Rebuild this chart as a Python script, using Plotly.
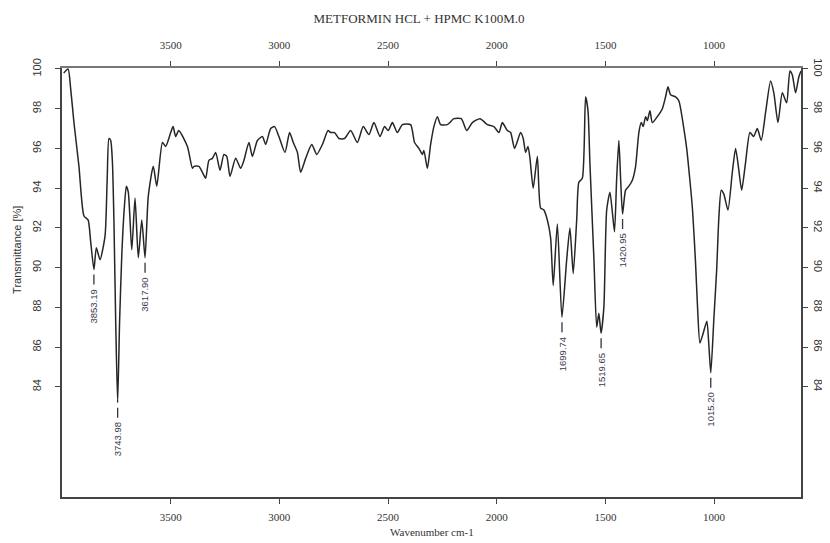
import plotly.graph_objects as go

# ---- data ----
wavenumber = [3992, 3972, 3960, 3945, 3922, 3899, 3880, 3868, 3853, 3842, 3825, 3802, 3792, 3784, 3776,
              3768, 3761, 3753, 3744, 3735, 3725, 3714, 3704, 3695, 3679, 3664, 3649, 3633, 3618, 3603,
              3580, 3564, 3538, 3523, 3500, 3489, 3477, 3463, 3423, 3400, 3393, 3370, 3354, 3339, 3324,
              3308, 3293, 3273, 3255, 3242, 3227, 3201, 3178, 3163, 3140, 3124, 3101, 3078, 3063, 3040,
              3022, 3002, 2974, 2953, 2936, 2917, 2902, 2879, 2851, 2828, 2802, 2776, 2764, 2746, 2726,
              2700, 2672, 2641, 2614, 2588, 2565, 2537, 2516, 2499, 2480, 2457, 2434, 2396, 2378, 2358,
              2342, 2335, 2319, 2304, 2289, 2273, 2258, 2227, 2197, 2163, 2138, 2112, 2077, 2043, 2013,
              1990, 1974, 1951, 1936, 1918, 1890, 1878, 1867, 1856, 1847, 1832, 1813, 1798, 1783, 1767,
              1752, 1740, 1721, 1700, 1678, 1663, 1648, 1632, 1622, 1606, 1591, 1580, 1571, 1553, 1540,
              1530, 1520, 1507, 1494, 1479, 1468, 1458, 1448, 1438, 1430, 1421, 1407, 1392, 1376, 1361,
              1346, 1335, 1326, 1315, 1307, 1295, 1284, 1261, 1238, 1223, 1212, 1200, 1177, 1162, 1139,
              1126, 1113, 1099, 1085, 1076, 1065, 1050, 1033, 1024, 1015, 1001, 988, 978, 967, 955,
              936, 916, 901, 887, 873, 855, 835, 818, 801, 783, 763, 740, 725, 706, 686,
              666, 651, 640, 625, 610, 600]
transmittance = [99.8, 100.0, 99.0, 97.3, 95.1, 92.6, 92.4, 91.3, 89.9, 91.0, 90.4, 91.6, 94.5, 96.5, 96.4,
                 95.3, 92.3, 87.3, 83.2, 87.3, 90.6, 92.9, 94.1, 93.8, 90.9, 93.5, 90.5, 92.4, 90.5, 93.6,
                 95.1, 94.1, 96.3, 96.1, 96.8, 97.1, 96.6, 96.9, 96.1, 95.0, 95.1, 95.1, 94.8, 94.5, 95.4,
                 95.5, 95.8, 94.9, 95.7, 95.6, 94.6, 95.5, 95.0, 95.4, 96.3, 95.6, 96.4, 96.6, 96.2, 97.0,
                 97.1, 96.6, 95.8, 96.8, 96.3, 95.8, 94.8, 95.5, 96.2, 95.7, 96.2, 96.9, 96.8, 96.8, 96.5,
                 96.5, 96.9, 96.3, 97.1, 96.7, 97.3, 96.6, 97.1, 96.9, 97.3, 96.8, 97.2, 97.2, 96.3, 96.0,
                 95.7, 95.9, 95.0, 96.2, 97.1, 97.6, 97.2, 97.2, 97.5, 97.5, 96.9, 97.3, 97.5, 97.2, 97.1,
                 96.8, 97.3, 96.9, 96.8, 96.0, 96.8, 96.5, 95.8, 96.1, 95.5, 94.0, 95.6, 93.0, 92.9, 92.4,
                 91.5, 89.1, 92.2, 87.5, 90.4, 92.0, 89.7, 92.4, 94.3, 94.5, 98.6, 97.9, 95.2, 90.5, 87.0,
                 87.7, 86.7, 88.0, 92.9, 93.8, 92.8, 91.8, 94.5, 96.4, 94.5, 92.7, 93.9, 94.1, 94.4, 95.1,
                 96.8, 97.3, 97.1, 97.6, 97.4, 97.9, 97.3, 97.6, 98.0, 98.6, 99.1, 98.7, 98.6, 98.4, 97.0,
                 96.0, 94.6, 92.9, 90.2, 88.0, 86.2, 86.7, 87.3, 86.1, 84.7, 87.4, 89.9, 92.5, 93.9, 93.7,
                 92.9, 94.8, 96.0, 95.0, 93.9, 95.3, 96.8, 96.6, 97.0, 96.4, 97.8, 99.4, 98.8, 97.3, 98.8,
                 98.3, 99.9, 99.7, 98.8, 99.6, 99.9]

peak_wavenumbers = [3853.19, 3743.98, 3617.90, 1699.74, 1519.65, 1420.95, 1015.20]
peak_values = [89.9, 83.2, 90.5, 87.5, 86.7, 92.7, 84.7]
peak_labels = ["3853.19", "3743.98", "3617.90", "1699.74", "1519.65", "1420.95", "1015.20"]

x_ticks = [3500, 3000, 2500, 2000, 1500, 1000]
y_ticks = [84, 86, 88, 90, 92, 94, 96, 98, 100]

title_text = "METFORMIN HCL + HPMC K100M.0"
x_title = "Wavenumber cm-1"
y_title = "Transmittance [%]"

# ---- figure ----
# The page body has an 8 px margin, so the figure is sized/placed to compensate.
W, H = 822, 535
SERIF = "Liberation Serif, DejaVu Serif, serif"
SANS = "Liberation Sans, Arial, sans-serif"
x_range = [4000, 600]
y_range = [78.45, 100.05]

fig = go.Figure()
fig.add_trace(go.Scatter(x=wavenumber, y=transmittance, mode="lines",
                         line=dict(color="#262626", width=1.5, shape="spline", smoothing=0.6),
                         xaxis="x", yaxis="y", showlegend=False, hoverinfo="skip"))
fig.add_trace(go.Scatter(x=wavenumber, y=transmittance, mode="lines",
                         line=dict(color="rgba(0,0,0,0)", width=0),
                         xaxis="x2", yaxis="y2", showlegend=False, hoverinfo="skip"))

annotations = []
shapes = []
for wn, val, lab in zip(peak_wavenumbers, peak_values, peak_labels):
    shapes.append(dict(type="line", xref="x", yref="y", x0=wn, x1=wn,
                       ysizemode="pixel", yanchor=val, y0=-5, y1=-15,
                       line=dict(color="#333344", width=1.3)))
    annotations.append(dict(x=wn, y=val, xref="x", yref="y", text=lab,
                            showarrow=False, textangle=-90, yanchor="top",
                            xanchor="center", yshift=-18,
                            font=dict(family=SANS, size=9.5, color="#3a3a4c")))

annotations.append(dict(x=0.5, y=0, xref="paper", yref="paper", text=x_title,
                        showarrow=False, yanchor="middle", yshift=-35,
                        font=dict(family=SERIF, size=11, color="#333")))
annotations.append(dict(x=0, y=0.576, xref="paper", yref="paper", text=y_title,
                        showarrow=False, textangle=-90, xanchor="center",
                        yanchor="middle", xshift=-45,
                        font=dict(family=SANS, size=11, color="#333")))

axis_common = dict(showgrid=False, zeroline=False, ticks="outside", ticklen=5,
                   tickcolor="#444", tickwidth=1, showline=True, automargin=False)

fig.update_layout(
    width=W, height=H,
    margin=dict(l=54, r=29, t=60, b=46),
    paper_bgcolor="white", plot_bgcolor="white",
    title=dict(text=title_text, x=0.5, xanchor="center", y=1 - 10 / H, yanchor="middle",
               font=dict(family=SERIF, size=13, color="#333")),
    xaxis=dict(range=x_range, tickvals=x_ticks, linecolor="#444", linewidth=1.5,
               tickfont=dict(family=SERIF, size=11, color="#333"),
               anchor="y", ticklabelstandoff=4, **axis_common),
    xaxis2=dict(range=x_range, tickvals=x_ticks, overlaying="x", side="top", anchor="y",
                linecolor="#777", linewidth=2,
                tickfont=dict(family=SERIF, size=11, color="#333"),
                ticklabelstandoff=8, **axis_common),
    yaxis=dict(range=y_range, tickvals=y_ticks, tickangle=-90, linecolor="#444", linewidth=1.5,
               tickfont=dict(family=SANS, size=11, color="#333"), anchor="x",
               ticklabelstandoff=10, **axis_common),
    yaxis2=dict(range=y_range, tickvals=y_ticks, tickangle=90, overlaying="y", side="right",
                anchor="x", linecolor="#444", linewidth=1.5,
                tickfont=dict(family=SANS, size=11, color="#333"),
                ticklabelstandoff=2, **axis_common),
    annotations=annotations,
    shapes=shapes,
)

fig.write_html("out.html")
